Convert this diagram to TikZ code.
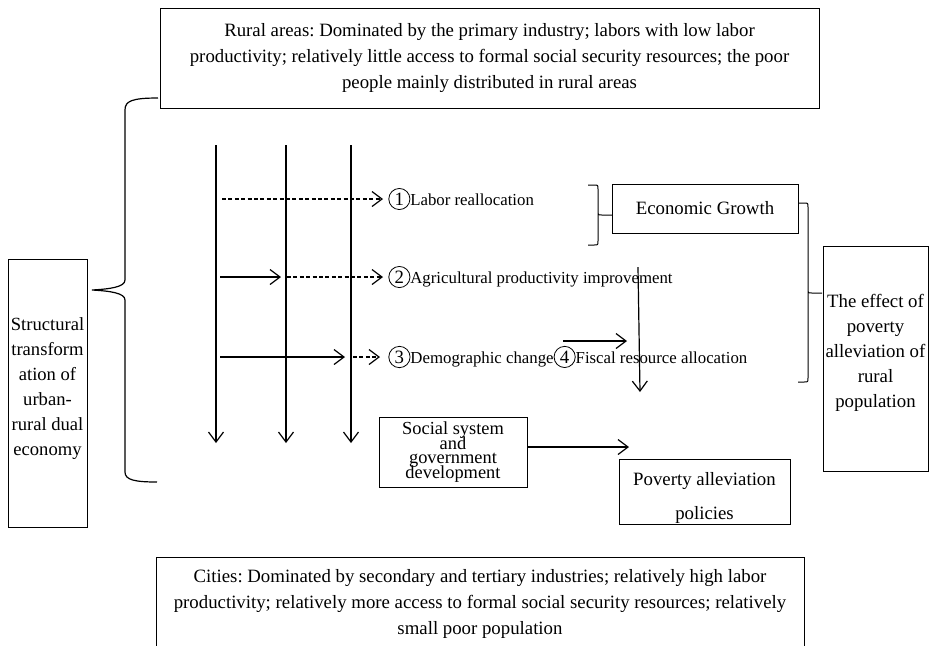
\documentclass[tikz,border=0pt]{standalone}
\usepackage{fontspec}
\setmainfont{Liberation Serif}
\usetikzlibrary{arrows.meta}
\newcommand{\cnum}[1]{\tikz[baseline=(c.base)]\node[circle,draw,line width=0.4pt,inner sep=1pt,
  font=\fontsize{9.4}{9.4}\selectfont] (c) {#1};}
\newcommand{\tightlines}{\lineskiplimit=-20pt\relax}
\frenchspacing

\begin{document}
\begin{tikzpicture}[x=0.5pt,y=-0.5pt,
    every node/.style={font=\fontsize{9.4}{13}\selectfont},
    box/.style={draw,line width=0.5pt,align=center,inner sep=1pt},
    lbl/.style={font=\fontsize{8.4}{10}\selectfont,anchor=west,inner xsep=2.5pt,inner ysep=0pt},
    tip/.style={line width=0.6pt,-{Straight Barb[length=5pt,width=7.5pt]}},
    dsh/.style={dash pattern=on 2pt off 1.2pt}]
  \clip (0,0) rectangle (933,645);
  % boxes
  \node[box,minimum width=329.5pt,minimum height=50pt] (rural) at (489.5,58)
    {Rural areas: Dominated by the primary industry; labors with low labor\\
     productivity; relatively little access to formal social security resources; the poor\\
     people mainly distributed in rural areas};
  \node[box,minimum width=324pt,minimum height=47pt] (cities) at (480,604)
    {Cities: Dominated by secondary and tertiary industries; relatively high labor\\
     productivity; relatively more access to formal social security resources; relatively\\
     small poor population};
  \node[box,minimum width=39.5pt,minimum height=134pt,font=\fontsize{9.3}{12.5}\selectfont] (dual) at (47.5,393)
    {Structural\\transform\\ation of\\urban-\\rural dual\\economy\rule[-6pt]{0pt}{1pt}};
  \node[box,minimum width=93pt,minimum height=24.5pt] (econ) at (705,208.5) {Economic Growth};
  \node[box,minimum width=52.5pt,minimum height=112.5pt,font=\fontsize{9.4}{12.5}\selectfont] (effect) at (875.5,358.5)
    {The effect of\\poverty\\alleviation of\\rural\\population\rule[-8pt]{0pt}{1pt}};
  \node[box,minimum width=74pt,minimum height=35pt,
        font=\fontsize{9.2}{7.3}\selectfont\tightlines] (social) at (453,452)
    {Social system\\and\\government\\development};
  \node[box,minimum width=85.5pt,minimum height=32.5pt,inner ysep=0pt,
        font=\fontsize{9.4}{17}\selectfont] (policy) at (704.5,491.5)
    {\rule{0pt}{12.5pt}Poverty alleviation\\policies};

  % channel labels
  \node[lbl] (lab1) at (383,199) {\cnum{1}Labor reallocation};
  \node[lbl] (lab2) at (383,277) {\cnum{2}Agricultural productivity improvement};
  \node[lbl] (lab3) at (383,357) {\cnum{3}Demographic change\cnum{4}Fiscal resource allocation};

  % vertical flows
  \foreach \n/\x in {1/216,2/286,3/351} {
    \coordinate (top\n) at (\x,145);
    \coordinate (bot\n) at (\x,443);
    \draw[tip] (top\n) -- (bot\n);
  }
  \draw[tip,dsh] ([xshift=3pt]top1 |- lab1.west) -- (lab1.west);
  \draw[tip] ([xshift=2pt]top1 |- lab2.west) -- ([xshift=-2.5pt]top2 |- lab2.west);
  \draw[tip,dsh] ([xshift=0.5pt]top2 |- lab2.west) -- (lab2.west);
  \draw[tip] ([xshift=2pt]top1 |- lab3.west) -- ([xshift=-3pt]top3 |- lab3.west);
  \draw[tip,dsh] ([xshift=1pt]top3 |- lab3.west) -- ([xshift=-1.5pt]lab3.west);

  \coordinate (fs1) at (563,341);
  \coordinate (fs2) at (627,341);
  \draw[tip] (fs1) -- (fs2);
  \coordinate (eg1) at (638,267);
  \coordinate (eg2) at (640,392);
  \draw[tip] (eg1) -- (eg2);
  \coordinate (socend) at (629,447);
  \draw[tip] ([yshift=2.5pt]social.east) -- (socend);

  % braces
  \draw[line width=0.6pt] (158,98) .. controls (132,98) and (125,101) .. (125,110) -- (125,280)
    .. controls (125,287) and (110,289) .. (92,290)
    .. controls (110,291) and (125,293) .. (125,300) -- (125,472)
    .. controls (125,480) and (135,482) .. (157,482);
  \draw[line width=0.5pt] (588,185) -- (594,185) .. controls (598,185) .. (598,189) -- (598,241)
    .. controls (598,245) .. (594,245) -- (588,245)
    (598,211) .. controls (598,215) .. (602,215) -- (612,215);
  \draw[line width=0.5pt] (798,203) -- (804,203) .. controls (808,203) .. (808,207) -- (808,378)
    .. controls (808,382) .. (804,382) -- (798,382)
    (808,289) .. controls (808,293) .. (812,293) -- (822,293);
\end{tikzpicture}
\end{document}
